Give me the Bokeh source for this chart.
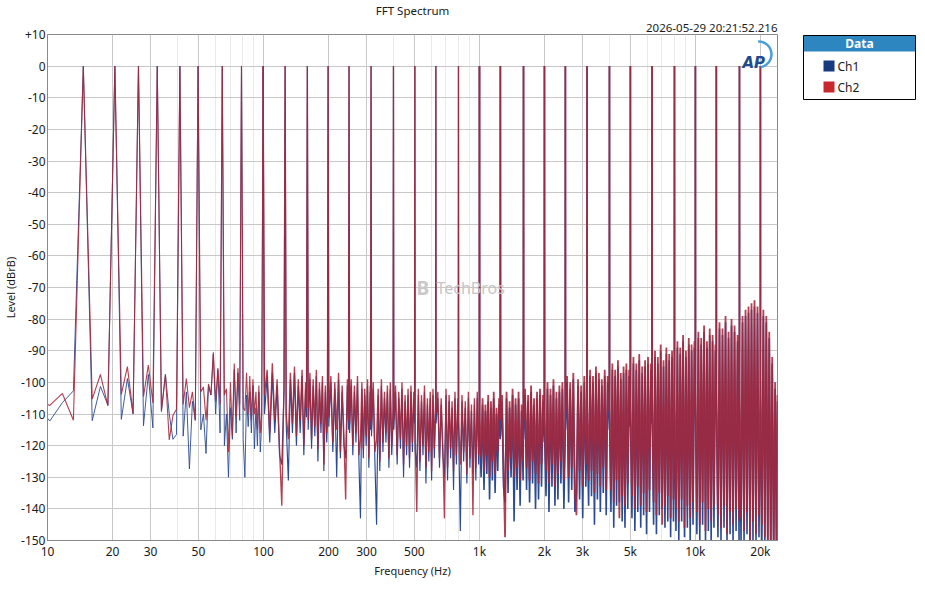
import numpy as np
from bokeh.plotting import figure
from bokeh.models import FixedTicker, Range1d, Label, Title, CustomJSTickFormatter
from bokeh.layouts import row
from bokeh.embed import file_html
from bokeh.resources import INLINE

# ---------------- data ----------------
# multitone peaks (Hz) and their levels (dBrB)
tone_hz = [14.65, 20.51, 26.37, 32.23, 41.02, 49.80, 64.45, 79.10, 99.61,
           125.98, 159.67, 199.22, 249.02, 314.94, 399.90, 502.44, 628.42, 799.80,
           1000.5, 1250, 1600, 2000, 2500, 3150, 4000, 5000, 6300, 8000,
           10000, 12500, 16000, 20000]
ch1_tone = [0.0] * 32
ch2_tone = [0.0] * 32

# noise floor below 100 Hz (individual FFT bins)
low_hz = [8.79, 10.25, 11.72, 13.18, 16.11, 17.58, 19.04, 21.97, 23.44, 24.90,
          27.83, 29.30, 30.76, 33.69, 35.16, 36.62, 38.09, 39.55, 42.48, 43.95,
          45.41, 46.88, 48.34, 51.27, 52.73, 54.20, 55.66, 57.13, 58.59, 60.06,
          61.52, 62.99, 65.92, 67.38, 68.85, 70.31, 71.78, 73.24, 74.71, 76.17,
          77.64, 80.57, 82.03, 83.50, 84.96, 86.43, 87.89, 89.36, 90.82, 92.29,
          93.75, 95.21, 96.68, 98.14]
ch1_low = [-107, -112.2, -106.4, -102.7, -112.1, -101.3, -107.2, -111.7, -98.8, -110.0,
           -113.7, -97.5, -114.4, -109.2, -97.5, -110, -118, -116.5, -117, -103,
           -127.4, -106, -112, -115, -110, -122.5, -101, -104, -91, -110,
           -96, -116, -120, -110, -130, -108, -118, -96, -116, -97,
           -112, -118, -130, -104, -114, -103, -116, -101, -121, -108,
           -120, -103, -122, -113]
ch2_low = [-105, -107.3, -103.5, -112.0, -105.3, -97.5, -107.4, -103.8, -95.0, -109.8,
           -104.5, -94.5, -106.5, -109.0, -97.5, -118.2, -110.5, -108.5, -107, -98.8,
           -108, -103, -112, -103, -101.5, -112, -100.5, -104, -90.5, -106,
           -95.5, -107, -104, -102, -122, -100, -117, -94, -111, -95.5,
           -107, -108, -109, -97, -110, -98, -112, -99, -110, -103,
           -115, -101, -116, -110]

# noise floor 100 Hz .. 1 kHz
mid_hz = [101.1, 104.0, 106.9, 109.9, 112.8, 115.7, 118.7, 121.6, 124.5,
          127.4, 130.4, 133.3, 136.2, 139.2, 142.1, 145.0, 147.9, 150.9, 153.8, 156.7, 158.2,
          161.1, 164.1, 167.0, 169.9, 172.9, 175.8, 178.7, 181.6, 184.6, 187.5, 190.4, 193.4, 196.3, 197.8,
          200.7, 205.1, 209.5, 213.9, 218.3, 222.7, 227.1, 231.4, 235.8, 240.2, 244.6, 247.6,
          250.5, 254.9, 259.3, 263.7, 268.1, 272.5, 276.9, 281.3, 285.6, 290.0, 294.4, 298.8, 303.2, 307.6, 312.0, 313.5,
          316.4, 322.3, 328.1, 334.0, 339.8, 345.7, 351.6, 357.4, 363.3, 369.1, 375.0, 380.9, 386.7, 392.6, 398.4,
          401.4, 408.7, 416.0, 423.3, 430.7, 438.0, 445.3, 452.6, 460.0, 467.3, 474.6, 481.9, 489.3, 496.6, 500.9,
          503.9, 512.7, 521.5, 530.3, 539.1, 547.9, 556.6, 565.4, 574.2, 583.0, 591.8, 600.6, 609.4, 618.2, 627.0,
          629.9, 641.6, 653.3, 665.0, 676.8, 688.5, 700.2, 711.9, 723.6, 735.4, 747.1, 758.8, 770.5, 782.2, 794.0, 798.3,
          801.3, 815.9, 830.6, 845.2, 859.9, 874.5, 889.2, 903.8, 918.5, 933.1, 947.8, 962.4, 977.1, 991.7, 999.0]
ch1_mid = [-110, -98, -119, -97, -116, -101, -123, -126, -103,
           -113, -131, -99, -116, -97, -120, -101, -116, -98, -123, -102, -111,
           -115, -99, -121, -101, -117, -98, -125, -102, -116, -100, -128, -103, -119, -112,
           -114, -100, -122, -102, -130, -99, -124, -103, -120, -124, -101, -115,
           -116, -101, -123, -103, -119, -100, -126, -143, -102, -124, -104, -120, -101, -127, -103, -115,
           -117, -102, -125, -145, -104, -128, -101, -122, -105, -119, -103, -127, -102, -123, -111,
           -115, -103, -126, -105, -121, -102, -130, -106, -123, -104, -127, -103, -122, -105, -113,
           -121, -127, -104, -128, -106, -123, -103, -132, -107, -125, -105, -131, -104, -124, -109,
           -113, -105, -127, -107, -123, -130, -104, -131, -106, -124, -108, -134, -105, -126, -107, -115,
           -115, -147, -106, -125, -108, -132, -105, -127, -109, -129, -107, -131, -105, -126, -113]
ch2_mid = [-104, -96, -116, -94, -112, -99, -121, -139, -100,
           -110, -118, -97, -113, -95, -117, -99, -112, -96, -120, -100, -108,
           -112, -97, -118, -99, -114, -96, -121, -100, -113, -98, -126, -101, -116, -109,
           -111, -98, -119, -100, -115, -97, -122, -101, -117, -137, -99, -112,
           -113, -99, -120, -101, -116, -98, -123, -118, -100, -121, -102, -117, -99, -124, -101, -112,
           -114, -100, -122, -118, -102, -125, -99, -119, -103, -116, -101, -124, -100, -120, -108,
           -112, -101, -123, -103, -118, -100, -126, -104, -120, -102, -124, -101, -119, -103, -110,
           -118, -141, -102, -125, -104, -120, -101, -127, -105, -122, -103, -128, -102, -121, -106,
           -110, -103, -124, -105, -120, -143, -102, -127, -104, -121, -106, -128, -103, -123, -105, -112,
           -112, -126, -104, -122, -106, -129, -103, -124, -107, -142, -105, -127, -103, -123, -110]

# noise floor 1 kHz .. 24 kHz
high_hz = [1002, 1018, 1034, 1050, 1066, 1082, 1098, 1114, 1131, 1148, 1165, 1182, 1199, 1216, 1233, 1248,
           1252, 1272, 1293, 1314, 1335, 1357, 1379, 1401, 1424, 1447, 1470, 1494, 1518, 1543, 1568, 1593, 1598,
           1602, 1627, 1653, 1680, 1707, 1734, 1762, 1790, 1819, 1848, 1878, 1908, 1939, 1970, 1997,
           2003, 2034, 2066, 2099, 2133, 2167, 2202, 2237, 2273, 2309, 2346, 2384, 2422, 2461, 2497,
           2503, 2545, 2588, 2632, 2676, 2721, 2767, 2814, 2861, 2909, 2958, 3008, 3059, 3110, 3146,
           3154, 3203, 3253, 3304, 3356, 3409, 3463, 3518, 3574, 3630, 3687, 3745, 3804, 3864, 3925, 3995,
           4005, 4065, 4126, 4188, 4251, 4315, 4380, 4446, 4513, 4581, 4650, 4720, 4791, 4863, 4936, 4994,
           5006, 5085, 5165, 5246, 5328, 5412, 5497, 5583, 5671, 5760, 5850, 5942, 6035, 6130, 6226, 6293,
           6308, 6404, 6502, 6601, 6702, 6804, 6908, 7013, 7120, 7229, 7339, 7451, 7565, 7680, 7797, 7916, 7992,
           8008, 8130, 8254, 8380, 8508, 8638, 8770, 8904, 9040, 9178, 9318, 9460, 9604, 9751, 9899, 9990,
           10010, 10160, 10320, 10480, 10640, 10800, 10970, 11140, 11310, 11480, 11650, 11830, 12010, 12190, 12380, 12490,
           12510, 12720, 12930, 13140, 13350, 13570, 13790, 14010, 14240, 14470, 14700, 14940, 15180, 15430, 15680, 15930, 15990,
           16010, 16270, 16530, 16800, 17070, 17340, 17620, 17900, 18190, 18480, 18780, 19080, 19390, 19700, 19990,
           20010, 20320, 20640, 20970, 21300, 21640, 21980, 22330, 22680, 23040, 23400, 23760, 24000]
ch1_high = [-116, -130, -107, -134, -109, -129, -106, -137, -108, -131, -105, -135, -110, -128, -107, -118,
            -117, -106, -133, -138, -105, -135, -108, -130, -104, -144, -107, -134, -105, -139, -109, -131, -116,
            -118, -104, -134, -106, -138, -103, -132, -107, -140, -105, -137, -104, -133, -106, -119,
            -116, -136, -102, -141, -104, -133, -101, -139, -105, -137, -103, -132, -102, -140, -117,
            -115, -100, -138, -102, -134, -99, -141, -135, -101, -137, -103, -143, -100, -133, -116,
            -114, -139, -98, -136, -100, -145, -97, -137, -99, -141, -101, -135, -98, -142, -100, -115,
            -113, -141, -96, -146, -98, -139, -95, -138, -99, -144, -97, -146, -96, -140, -98, -114,
            -112, -143, -94, -147, -96, -141, -93, -146, -97, -142, -95, -148, -94, -141, -96, -113,
            -110, -145, -92, -148, -94, -142, -90, -140, -95, -146, -91, -144, -93, -149, -92, -144, -111,
            -109, -147, -89, -150, -91, -144, -87, -149, -92, -146, -88, -150, -90, -145, -89, -110,
            -108, -148, -86, -150, -88, -145, -84, -150, -89, -147, -85, -150, -87, -146, -90, -109,
            -107, -149, -83, -150, -85, -146, -81, -150, -86, -148, -82, -150, -84, -147, -87, -150, -108,
            -106, -150, -81, -150, -79, -148, -78, -150, -77, -150, -76, -150, -78, -149, -107,
            -105, -152, -79, -152, -81, -152, -86, -155, -94, -155, -102, -156, -106]
ch2_high = [-110, -124, -105, -128, -107, -123, -104, -130, -106, -125, -103, -129, -108, -122, -105, -112,
            -111, -104, -126, -149, -103, -128, -106, -124, -102, -130, -105, -127, -103, -131, -107, -125, -110,
            -112, -102, -127, -104, -131, -101, -125, -105, -129, -103, -132, -102, -126, -104, -113,
            -110, -128, -100, -132, -102, -126, -99, -133, -103, -129, -101, -125, -100, -131, -111,
            -109, -98, -130, -100, -127, -97, -134, -142, -99, -128, -101, -133, -98, -126, -110,
            -108, -131, -96, -128, -98, -135, -95, -129, -97, -133, -99, -127, -96, -134, -98, -109,
            -107, -134, -94, -138, -96, -131, -93, -143, -97, -136, -95, -139, -94, -132, -96, -108,
            -106, -136, -92, -140, -94, -133, -91, -139, -95, -135, -93, -141, -92, -134, -94, -107,
            -104, -138, -90, -142, -92, -135, -88, -145, -93, -139, -89, -136, -91, -143, -90, -137, -105,
            -103, -140, -87, -144, -89, -137, -85, -146, -90, -139, -86, -143, -88, -138, -87, -104,
            -102, -141, -84, -145, -86, -138, -82, -147, -87, -140, -83, -144, -85, -139, -88, -103,
            -101, -142, -81, -146, -83, -139, -79, -148, -84, -141, -80, -145, -82, -140, -85, -144, -102,
            -100, -143, -79, -147, -77, -141, -76, -150, -75, -144, -74, -148, -76, -142, -101,
            -99, -145, -77, -149, -79, -150, -84, -152, -92, -152, -100, -155, -104]

# axes
x_major_ticks = [10, 20, 30, 50, 100, 200, 300, 500, 1000, 2000, 3000, 5000, 10000, 20000]
x_minor_ticks = [40, 60, 70, 80, 90, 400, 600, 700, 800, 900, 4000, 6000, 7000, 8000, 9000]
y_ticks = [-150, -140, -130, -120, -110, -100, -90, -80, -70, -60, -50, -40, -30, -20, -10, 0, 10]
series_names = ["Ch1", "Ch2"]
chart_title = "FFT Spectrum"
timestamp = "2026-05-29 20:21:52.216"

# ---------------- build ----------------
FONT = "Noto Sans"
BLUE = "#2B4A92"
RED = "#A6273A"
FW, FH = 730, 506
TOP = 33
TOTAL_H = 584


def merged(parts_hz, parts_db):
    hz, db = [], []
    for h, d in zip(parts_hz, parts_db):
        hz.extend(h)
        db.extend(d)
    idx = np.argsort(np.asarray(hz, dtype=float), kind="stable")
    return np.asarray(hz, dtype=float)[idx], np.asarray(db, dtype=float)[idx]


ch1_x, ch1_y = merged([low_hz, mid_hz, high_hz, tone_hz], [ch1_low, ch1_mid, ch1_high, ch1_tone])
ch2_x, ch2_y = merged([low_hz, mid_hz, high_hz, tone_hz], [ch2_low, ch2_mid, ch2_high, ch2_tone])

p = figure(frame_width=FW, frame_height=FH, x_axis_type="log",
           x_range=Range1d(10, 24000), y_range=Range1d(-150, 10),
           output_backend="svg", toolbar_location=None, title_location=None,
           min_border_left=40, min_border_right=15, min_border_top=TOP, min_border_bottom=0,
           background_fill_color="white", border_fill_color="white")

# titles above the frame: timestamp (nearest the frame, right) then chart title (centre)
p.add_layout(Title(text=timestamp, align="right", text_font=FONT, text_font_size="11.5px",
                   text_font_style="normal", text_color="#1A1A1A", standoff=0), "above")
p.add_layout(Title(text=chart_title, align="center", text_font=FONT, text_font_size="11.5px",
                   text_font_style="normal", text_color="#1A1A1A", standoff=0), "above")

p.outline_line_color = "#8A8A8A"
p.xgrid.grid_line_color = "#C8C8C8"
p.xgrid.minor_grid_line_color = "#E9E9E9"
p.ygrid.grid_line_color = "#C8C8C8"

p.xaxis.ticker = FixedTicker(ticks=x_major_ticks, minor_ticks=x_minor_ticks)
p.xaxis.formatter = CustomJSTickFormatter(code="return tick >= 1000 ? (tick/1000) + 'k' : String(tick);")
p.yaxis.ticker = FixedTicker(ticks=y_ticks)
p.yaxis.formatter = CustomJSTickFormatter(code="return tick > 0 ? '+' + tick : String(tick);")

for ax in (p.xaxis[0], p.yaxis[0]):
    ax.major_tick_out = 0
    ax.major_tick_in = 0
    ax.minor_tick_out = 0
    ax.minor_tick_in = 0
    ax.axis_line_color = "#8A8A8A"
    ax.major_label_text_font = FONT
    ax.major_label_text_font_size = "12px"
    ax.major_label_text_color = "#1A1A1A"
    ax.axis_label_text_font = FONT
    ax.axis_label_text_font_size = "11px"
    ax.axis_label_text_font_style = "normal"
    ax.axis_label_text_color = "#1A1A1A"
    ax.major_label_standoff = 2
    ax.axis_label_standoff = 0

p.xaxis.axis_label = "Frequency (Hz)"
p.yaxis.axis_label = "Level (dBrB)"

# the traces: thin where bins are sparse, heavier where the FFT bins pile up
sections = [(0, 99.61, 1.1), (99.61, 1000.5, 1.35), (1000.5, 1e9, 1.8)]
for xs, ys, color, alpha, extra in ((ch1_x, ch1_y, BLUE, 1.0, -0.2), (ch2_x, ch2_y, RED, 0.88, 0.0)):
    for lo, hi, w in sections:
        m = (xs >= lo) & (xs <= hi)
        p.line(xs[m], ys[m], line_color=color, line_alpha=alpha, line_width=w + extra)

# AP logo
p.add_layout(Label(x=695, y=FH - 28, x_units="screen", y_units="screen", text="AP",
                   text_align="left", text_baseline="alphabetic", text_font="DejaVu Sans",
                   text_font_size="15px", text_font_style="bold italic", text_color="#1D4B8F"))
p.arc(x=[19600], y=[3.7], radius=13, radius_units="screen", start_angle=-1.4, end_angle=1.6,
      line_color="#4A9FDA", line_width=2.5)
# watermark
p.add_layout(Label(x=369, y=FH / 2, x_units="screen", y_units="screen", text="B",
                   text_align="left", text_baseline="middle", text_font=FONT,
                   text_font_size="19px", text_font_style="bold", text_color="#C9C9C9"))
p.add_layout(Label(x=389, y=FH / 2, x_units="screen", y_units="screen", text="TechBros",
                   text_align="left", text_baseline="middle", text_font=FONT,
                   text_font_size="16px", text_color="#C6C6C6"))

# ---------------- legend panel (data units = canvas pixels, y measured from the top) ----------------
lg = figure(frame_width=124, frame_height=FH, x_range=Range1d(0, 124), y_range=Range1d(TOP + FH, TOP),
            output_backend="svg", toolbar_location=None, title_location=None,
            x_axis_location=None, y_axis_location=None,
            min_border_left=0, min_border_right=0, min_border_top=TOP,
            min_border_bottom=TOTAL_H - TOP - FH,
            background_fill_color="white", border_fill_color="white")
lg.grid.visible = False
lg.outline_line_color = None
lg.quad(left=[11], right=[123], top=[34], bottom=[50], fill_color="#2E86C1", line_color=None)
lg.quad(left=[11], right=[123], top=[34], bottom=[98], fill_color=None, line_color="black", line_width=1)
lg.text(x=[67], y=[42], text=["Data"], text_align="center", text_baseline="middle",
        text_font_size="12px", text_font_style="bold", text_color="white",
        text_font={"value": FONT})
lg.quad(left=[31, 31], right=[42, 42], top=[59, 80], bottom=[70, 91],
        fill_color=["#173B7E", "#C8282D"], line_color=None)
lg.text(x=[45, 45], y=[64.5, 85.5], text=series_names, text_align="left", text_baseline="middle",
        text_font_size="12px", text_color="#1A1A1A", text_font={"value": FONT})

layout = row(p, lg)
open("out.html", "w").write(file_html(layout, INLINE, chart_title))
